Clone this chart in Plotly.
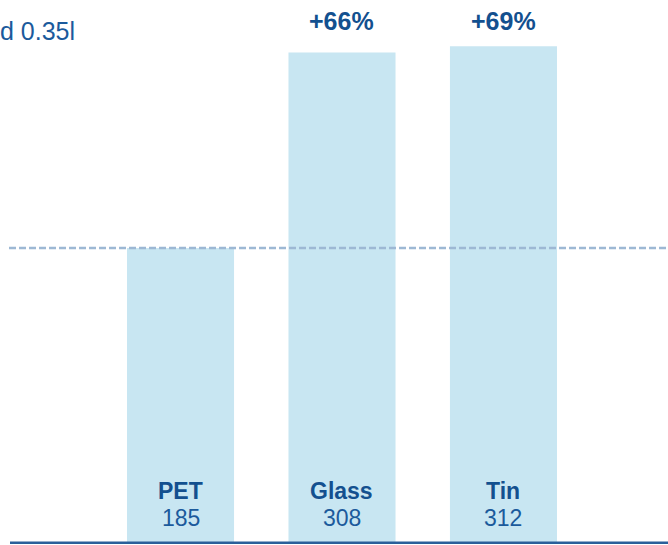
import plotly.graph_objects as go

categories = ["PET", "Glass", "Tin"]
values = [185, 308, 312]
change_labels = ["", "+66%", "+69%"]
title_fragment = "d 0.35l"

bar_color = "#c8e6f2"
dark_blue = "#13508f"
text_blue = "#1b5a9c"
FONT = "Liberation Sans, Arial, sans-serif"

fig = go.Figure()
fig.add_trace(go.Bar(
    x=categories, y=values, marker=dict(color=bar_color, line=dict(width=0)),
    width=0.663, hoverinfo="skip",
))

annotations = []
for c, v, lab in zip(categories, values, change_labels):
    annotations.append(dict(x=c, y=32.0, xref="x", yref="y", text="<b>%s</b>" % c,
                            showarrow=False, font=dict(size=23, color=dark_blue, family=FONT)))
    annotations.append(dict(x=c, y=14.8, xref="x", yref="y", text=str(v),
                            showarrow=False, font=dict(size=23, color=text_blue, family=FONT)))
    if lab:
        annotations.append(dict(x=c, y=328.0, xref="x", yref="y", text="<b>%s</b>" % lab,
                                showarrow=False, font=dict(size=25, color=dark_blue, family=FONT)))
annotations.append(dict(x=77/668, y=321.5, xref="paper", yref="y", xanchor="right",
                        text=title_fragment, showarrow=False,
                        font=dict(size=25, color=text_blue, family=FONT)))

shapes = [
    dict(type="line", xref="paper", yref="y", x0=9/668, x1=1, y0=values[0], y1=values[0],
         line=dict(color="#9db8d4", width=2.5, dash="7px,3px"), layer="above"),
    dict(type="line", xref="paper", yref="y", x0=10/668, x1=1, y0=-0.5, y1=-0.5,
         line=dict(color="#2a5f9a", width=2.5), layer="above"),
]

fig.update_layout(
    width=668, height=545, margin=dict(l=0, r=0, t=0, b=0),
    paper_bgcolor="white", plot_bgcolor="white", showlegend=False,
    xaxis=dict(range=[-1.118, 3.019], visible=False, fixedrange=True),
    yaxis=dict(range=[-1.89, 341.1], visible=False, fixedrange=True),
    annotations=annotations, shapes=shapes,
)
fig.write_html("out.html", config={"displayModeBar": False})
